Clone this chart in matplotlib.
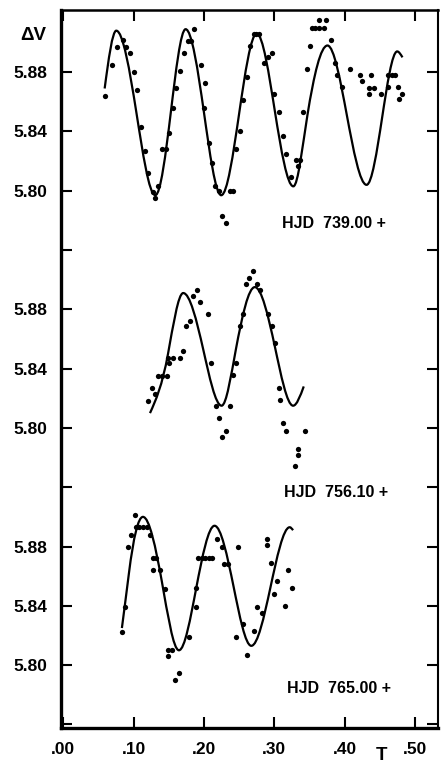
import matplotlib
matplotlib.use("Agg")
import matplotlib.pyplot as plt
from matplotlib.path import Path
from matplotlib.patches import PathPatch

plt.rcParams['font.family'] = ['Liberation Sans', 'DejaVu Sans']

# ============================
# DATOS
# ============================
# Noche 1: HJD 739.00 +
t1 = [0.060, 0.070, 0.076, 0.085, 0.090, 0.095, 0.100, 0.105, 0.111, 0.116,
      0.120, 0.127, 0.131, 0.135, 0.141, 0.146, 0.151, 0.156, 0.161, 0.166,
      0.171, 0.177, 0.181, 0.186, 0.196, 0.201, 0.200, 0.207, 0.211, 0.216,
      0.221, 0.226, 0.232, 0.237, 0.242, 0.246, 0.251, 0.256, 0.261, 0.266,
      0.271, 0.274, 0.278, 0.286, 0.291, 0.296, 0.300, 0.307, 0.312, 0.317,
      0.323, 0.331, 0.336, 0.333, 0.341, 0.346, 0.351, 0.354, 0.358, 0.363,
      0.364, 0.373, 0.370, 0.380, 0.386, 0.389, 0.396, 0.407, 0.422, 0.425,
      0.434, 0.434, 0.437, 0.441, 0.451, 0.462, 0.462, 0.467, 0.472, 0.476,
      0.477, 0.482]
v1 = [5.864, 5.885, 5.897, 5.902, 5.897, 5.893, 5.880, 5.868, 5.843, 5.827,
      5.812, 5.799, 5.795, 5.803, 5.828, 5.828, 5.839, 5.856, 5.869, 5.881,
      5.893, 5.901, 5.901, 5.909, 5.885, 5.873, 5.856, 5.832, 5.819, 5.803,
      5.800, 5.783, 5.778, 5.800, 5.800, 5.828, 5.840, 5.861, 5.877, 5.898,
      5.906, 5.906, 5.906, 5.886, 5.890, 5.893, 5.865, 5.853, 5.837, 5.825,
      5.809, 5.821, 5.821, 5.817, 5.853, 5.882, 5.898, 5.910, 5.910, 5.910,
      5.915, 5.915, 5.910, 5.902, 5.886, 5.878, 5.870, 5.882, 5.878, 5.874,
      5.869, 5.865, 5.878, 5.869, 5.865, 5.870, 5.878, 5.878, 5.878, 5.870,
      5.862, 5.865]
curva_t1 = [0.059, 0.0755, 0.104, 0.131, 0.153, 0.174, 0.200, 0.2246, 0.250,
            0.275, 0.301, 0.327, 0.347, 0.3755, 0.403, 0.431, 0.453, 0.4745, 0.482]
curva_v1 = [5.869, 5.908, 5.853, 5.797, 5.853, 5.909, 5.853, 5.797, 5.852,
            5.906, 5.853, 5.803, 5.851, 5.898, 5.851, 5.804, 5.849, 5.894, 5.890]

# Noche 2: HJD 756.10 +
t2 = [0.120, 0.126, 0.131, 0.135, 0.141, 0.147, 0.149, 0.156, 0.150, 0.166,
      0.170, 0.175, 0.180, 0.184, 0.190, 0.195, 0.206, 0.210, 0.217, 0.222,
      0.226, 0.232, 0.237, 0.241, 0.246, 0.251, 0.256, 0.260, 0.264, 0.270,
      0.275, 0.280, 0.291, 0.296, 0.301, 0.307, 0.308, 0.313, 0.317, 0.333,
      0.333, 0.329, 0.343]
v2 = [5.818, 5.827, 5.823, 5.835, 5.835, 5.835, 5.847, 5.847, 5.844, 5.847,
      5.852, 5.869, 5.872, 5.889, 5.893, 5.885, 5.877, 5.844, 5.815, 5.807,
      5.794, 5.798, 5.815, 5.836, 5.844, 5.869, 5.877, 5.897, 5.901, 5.906,
      5.897, 5.893, 5.877, 5.869, 5.857, 5.827, 5.819, 5.803, 5.798, 5.786,
      5.782, 5.774, 5.798]
curva_t2 = [0.1234, 0.149, 0.1706, 0.199, 0.2251, 0.2454, 0.2723, 0.3007, 0.3267, 0.3418]
curva_v2 = [5.810, 5.850, 5.891, 5.853, 5.815, 5.853, 5.895, 5.855, 5.815, 5.828]

# Noche 3: HJD 765.00 +
t3 = [0.083, 0.088, 0.092, 0.097, 0.102, 0.103, 0.108, 0.114, 0.119, 0.123,
      0.127, 0.132, 0.128, 0.138, 0.145, 0.149, 0.155, 0.149, 0.159, 0.165,
      0.179, 0.189, 0.189, 0.192, 0.197, 0.202, 0.207, 0.211, 0.219, 0.225,
      0.228, 0.234, 0.245, 0.248, 0.256, 0.261, 0.271, 0.275, 0.282, 0.289,
      0.289, 0.295, 0.304, 0.299, 0.315, 0.320, 0.325]
v3 = [5.822, 5.839, 5.880, 5.888, 5.901, 5.893, 5.893, 5.893, 5.893, 5.888,
      5.872, 5.872, 5.864, 5.864, 5.851, 5.810, 5.810, 5.806, 5.790, 5.795,
      5.819, 5.839, 5.852, 5.872, 5.872, 5.872, 5.872, 5.872, 5.885, 5.880,
      5.868, 5.868, 5.819, 5.880, 5.828, 5.807, 5.823, 5.839, 5.835, 5.885,
      5.881, 5.869, 5.857, 5.848, 5.840, 5.864, 5.852]
curva_t3 = [0.0835, 0.0935, 0.1134, 0.1404, 0.1645, 0.1891, 0.2151, 0.2421,
            0.2673, 0.2943, 0.3218, 0.3266]
curva_v3 = [5.825, 5.862, 5.900, 5.856, 5.810, 5.852, 5.894, 5.853, 5.813,
            5.852, 5.893, 5.891]

etiquetas = ["HJD  739.00 +", "HJD  756.10 +", "HJD  765.00 +"]
desplazamiento = [0.0, 0.16, 0.32]   # cada panel se baja 0.16 mag

x_ticks = [0.0, 0.1, 0.2, 0.3, 0.4, 0.5]
x_labels = [".00", ".10", ".20", ".30", ".40", ".50"]
y_labels_panel = ["5.88", "5.84", "5.80", ""]


def trazo_suave(xs, ys):
    """Curva Hermite -> segmentos Bezier (sin generar puntos nuevos)."""
    n = len(xs)
    pend = []
    for i in range(n):
        if i == 0 or i == n - 1:
            pend.append(None)
            continue
        if (ys[i] - ys[i - 1]) * (ys[i + 1] - ys[i]) <= 0:
            pend.append(0.0)  # maximo o minimo
        else:
            pend.append(1.5 * (ys[i + 1] - ys[i - 1]) / (xs[i + 1] - xs[i - 1]))
    c0 = (ys[1] - ys[0]) / (xs[1] - xs[0])
    pend[0] = (3 * c0 - pend[1]) / 2
    cn = (ys[-1] - ys[-2]) / (xs[-1] - xs[-2])
    pend[-1] = (3 * cn - pend[-2]) / 2

    verts = [(xs[0], ys[0])]
    codes = [Path.MOVETO]
    for i in range(n - 1):
        dx = xs[i + 1] - xs[i]
        verts.append((xs[i] + dx / 3, ys[i] + pend[i] * dx / 3))
        verts.append((xs[i + 1] - dx / 3, ys[i + 1] - pend[i + 1] * dx / 3))
        verts.append((xs[i + 1], ys[i + 1]))
        codes += [Path.CURVE4] * 3
    return Path(verts, codes)


fig = plt.figure(figsize=(4.42, 7.64), dpi=100)
ax = fig.add_axes([0.138, 0.047, 0.853, 0.940])

paneles = [(t1, v1, curva_t1, curva_v1), (t2, v2, curva_t2, curva_v2),
           (t3, v3, curva_t3, curva_v3)]
y_pos_etiqueta = [5.7776, 5.5967, 5.4643]
x_pos_etiqueta = [0.311, 0.314, 0.318]

for k, (t, v, ct, cv) in enumerate(paneles):
    off = desplazamiento[k]
    ax.plot(t, [a - off for a in v], "o", color="black", markersize=3.8,
            markeredgewidth=0)
    camino = trazo_suave(ct, [a - off for a in cv])
    ax.add_patch(PathPatch(camino, facecolor="none", edgecolor="black", lw=1.6))
    ax.text(x_pos_etiqueta[k], y_pos_etiqueta[k], etiquetas[k], fontsize=11.5,
            fontweight="bold", ha="left", va="center")

y_ticks = []
y_labels = []
for off in desplazamiento:
    for j, lab in enumerate(y_labels_panel):
        y_ticks.append(5.88 - 0.04 * j - off)
        y_labels.append(lab)

ax.set_xlim(-0.003, 0.5325)
ax.set_ylim(5.4375, 5.922)
ax.set_xticks(x_ticks)
ax.set_xticklabels(x_labels)
ax.set_yticks(y_ticks)
ax.set_yticklabels(y_labels)
ax.tick_params(direction="in", length=8, width=1.5, top=True, right=True,
               labelsize=12.5, pad=10)
for lab in ax.get_xticklabels() + ax.get_yticklabels():
    lab.set_fontweight("bold")

for lado, ancho in [("left", 2.4), ("bottom", 2.4), ("top", 1.8), ("right", 1.5)]:
    ax.spines[lado].set_linewidth(ancho)

fig.text(33 / 442, 1 - 35 / 764, "ΔV", fontsize=13.5, fontweight="bold",
         ha="center", va="center")
fig.text(382 / 442, 1 - 755 / 764, "T", fontsize=13.5, fontweight="bold",
         ha="center", va="center")

fig.savefig("out.png", dpi=100)
